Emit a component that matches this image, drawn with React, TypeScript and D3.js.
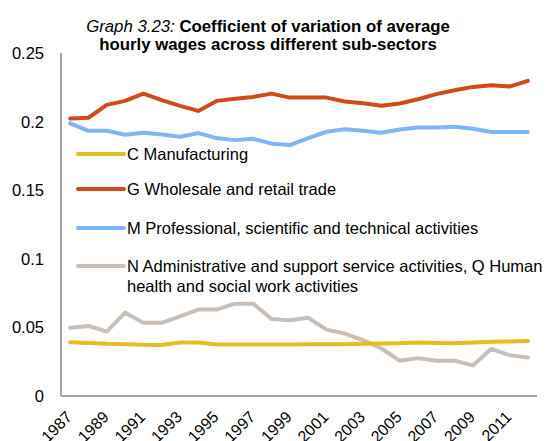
import React from "react";
import * as d3 from "d3";

const years = [1987,1988,1989,1990,1991,1992,1993,1994,1995,1996,1997,1998,1999,2000,2001,2002,2003,2004,2005,2006,2007,2008,2009,2010,2011,2012];
const manufacturing = [0.0392,0.0387,0.0380,0.0378,0.0373,0.0371,0.0390,0.0390,0.0375,0.0375,0.0375,0.0375,0.0376,0.0377,0.0378,0.0378,0.0380,0.0382,0.0385,0.0390,0.0387,0.0385,0.0390,0.0395,0.0397,0.0400];
const wholesale = [0.2023,0.2028,0.2122,0.2151,0.2204,0.2156,0.2115,0.2078,0.2151,0.2166,0.2180,0.2204,0.2175,0.2175,0.2175,0.2146,0.2134,0.2115,0.2132,0.2163,0.2200,0.2229,0.2253,0.2265,0.2255,0.2297];
const professional = [0.1987,0.1933,0.1933,0.1904,0.1919,0.1906,0.1890,0.1916,0.1880,0.1865,0.1875,0.1839,0.1829,0.1880,0.1926,0.1945,0.1933,0.1919,0.1943,0.1957,0.1957,0.1962,0.1948,0.1924,0.1924,0.1924];
const administrative = [0.0497,0.0511,0.0470,0.0608,0.0533,0.0533,0.0581,0.0630,0.0630,0.0673,0.0673,0.0562,0.0552,0.0570,0.0484,0.0455,0.0407,0.0346,0.0257,0.0276,0.0257,0.0257,0.0223,0.0344,0.0298,0.0281];
const yTicks = [0, 0.05, 0.1, 0.15, 0.2, 0.25];
const yTickLabels = ["0", "0.05", "0.1", "0.15", "0.2", "0.25"];
const xTickYears = [1987,1989,1991,1993,1995,1997,1999,2001,2003,2005,2007,2009,2011];

const seriesNames = [
  ["C Manufacturing"],
  ["G Wholesale and retail trade"],
  ["M Professional, scientific and technical activities"],
  ["N Administrative and support service activities, Q Human", "health and social work activities"],
];
const seriesValues = [manufacturing, wholesale, professional, administrative];
const seriesColors = ["#E6BE1E", "#D2491A", "#82B4F8", "#C9BFB7"];
const legendY = [154, 189, 228, 266];

const FONT = "'Liberation Sans', Arial, sans-serif";

export default function App() {
  const W = 548, H = 441;
  const x = d3.scalePoint<number>().domain(years).range([61, 537]).padding(0.5);
  const y = d3.scaleLinear().domain([0, 0.25]).range([396, 53]);
  const line = (vals: number[]) =>
    d3.line<number>().x((_, i) => x(years[i]) as number).y((v) => y(v))(vals) as string;
  const drawOrder = [3, 2, 1, 0];
  return (
    <svg width={W} height={H} style={{ position: "absolute", left: 0, top: 0, background: "#fff" }} fontFamily={FONT}>
      <rect width={W} height={H} fill="#fff" />
      <text x={268} y={32} textAnchor="middle" fontSize={16.8} fill="#000">
        <tspan fontStyle="italic">Graph 3.23: </tspan>
        <tspan fontWeight="bold">Coefficient of variation of average</tspan>
      </text>
      <text x={268} y={50} textAnchor="middle" fontSize={16.8} fontWeight="bold" fill="#000">
        hourly wages across different sub-sectors
      </text>
      {yTicks.map((t, i) => (
        <text key={t} x={44} y={y(t) + 6} textAnchor="end" fontSize={16.5} fill="#000">
          {yTickLabels[i]}
        </text>
      ))}
      {xTickYears.map((yr) => {
        const px = (x(yr) as number) + 3;
        const py = 418;
        return (
          <text key={yr} transform={`translate(${px},${py}) rotate(-45)`} textAnchor="end" fontSize={16} fill="#000">
            {yr}
          </text>
        );
      })}
      {drawOrder.map((si) => (
        <path key={si} d={line(seriesValues[si])} fill="none" stroke={seriesColors[si]} strokeWidth={4} strokeLinejoin="round" strokeLinecap="round" />
      ))}
      <line x1={61} x2={61} y1={y(0.25)} y2={396} stroke="#888" strokeWidth={1.5} />
      <line x1={61} x2={537} y1={396} y2={396} stroke="#888" strokeWidth={1.5} />
      {seriesNames.map((names, i) => (
        <g key={i}>
          <line x1={78} x2={124} y1={legendY[i]} y2={legendY[i]} stroke={seriesColors[i]} strokeWidth={4} strokeLinecap="round" />
          {names.map((n, j) => (
            <text key={j} x={127} y={legendY[i] + 6 + j * 20} fontSize={16.5} fill="#000">
              {n}
            </text>
          ))}
        </g>
      ))}
    </svg>
  );
}
